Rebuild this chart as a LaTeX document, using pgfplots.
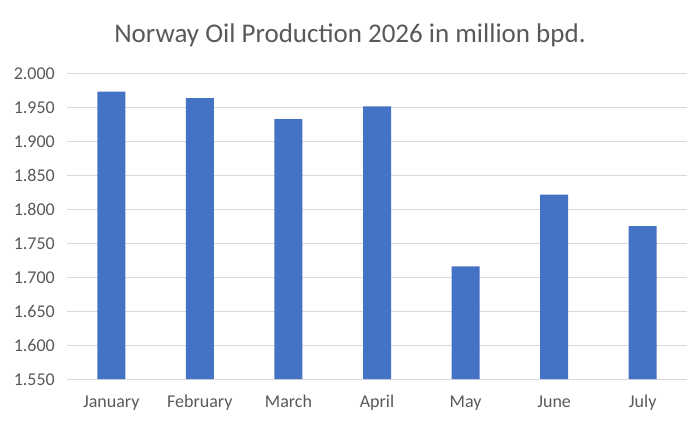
\documentclass[border=0pt]{standalone}
\usepackage{pgfplots}
\pgfplotsset{compat=1.18}
\usepackage{fontspec}
\setmainfont{Carlito}
\usetikzlibrary{calc}
\definecolor{txt}{HTML}{595959}
\definecolor{grd}{HTML}{D9D9D9}
\definecolor{bar}{HTML}{4472C4}
\begin{document}
\begin{tikzpicture}
\begin{axis}[
  scale only axis,
  width=620pt, height=306pt,
  xmin=-0.5, xmax=6.5,
  ymin=1.55, ymax=2.0,
  ytick={1.55,1.60,...,2.01},
  xtick={0,1,2,3,4,5,6},
  xticklabels={January,February,March,April,May,June,July},
  axis line style={draw=none},
  ymajorgrids,
  grid style={grd, line width=0.8pt},
  major tick length=0pt,
  tick label style={font=\fontsize{18}{20}\selectfont, text=txt},
  /pgf/number format/assume math mode=true,
  yticklabel style={/pgf/number format/fixed, /pgf/number format/fixed zerofill, /pgf/number format/precision=3, /pgf/number format/1000 sep={}, anchor=base east, xshift=-12pt, yshift=-6.5pt, inner sep=0pt},
  xticklabel style={anchor=base, yshift=-28pt, inner sep=0pt},
  clip=false,
]
\addplot[ybar, bar width=28pt, fill=bar, draw=none, bar shift=0pt] coordinates {
(0,1.9725) (1,1.963) (2,1.932) (3,1.951) (4,1.7155) (5,1.821) (6,1.775)
};
\end{axis}
\node[anchor=base, text=txt, font=\fontsize{27}{30}\selectfont] at ($(current axis.north)+(-27pt,31pt)$) {Norway Oil Production 2026 in million bpd.};
\useasboundingbox ($(current axis.south west)+(-67pt,-44pt)$) rectangle ($(current axis.north east)+(13pt,73pt)$);
\end{tikzpicture}
\end{document}
